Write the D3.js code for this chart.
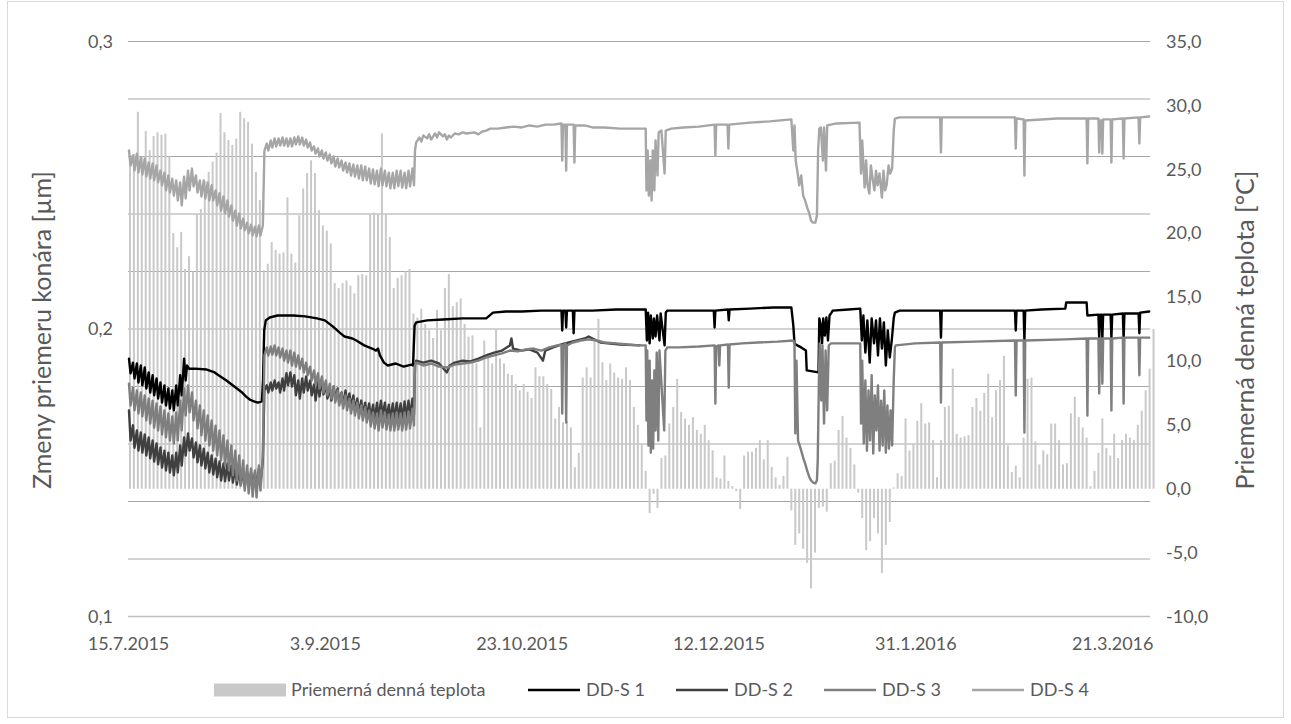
<!DOCTYPE html>
<html>
<head>
<meta charset="utf-8">
<script src="https://cdn.jsdelivr.net/npm/d3@7"></script>
<style>
  body { margin: 0; background: #fff; }
  svg text { font-family: Lato, "Open Sans", "Liberation Sans", sans-serif; fill: #595959; }
</style>
</head>
<body>
<svg id="chart" width="1291" height="724"></svg>
<script>
// ---- data ---------------------------------------------------------------
// Daily mean air temperature [°C], one value per day from 15.7.2015 to 31.3.2016
const tempDaily = [
  26.0, 26.2, 29.5, 26.0, 28.0, 26.5, 27.6, 27.9, 27.7, 27.8,
  26.0, 20.0, 18.9, 20.1, 17.2, 18.2, 17.0, 21.5, 21.9, 24.1,
  24.8, 25.6, 26.3, 29.4, 27.9, 27.3, 26.9, 27.4, 29.5, 29.0,
  28.7, 27.0, 24.8, 22.6, 17.1, 17.6, 19.3, 18.7, 18.4, 18.5,
  22.8, 18.4, 17.7, 21.4, 23.5, 24.7, 25.7, 24.7, 21.8, 20.6,
  20.2, 19.2, 16.1, 15.7, 16.1, 16.3, 15.9, 15.3, 16.7, 16.8,
  16.7, 21.5, 21.6, 21.5, 27.8, 21.5, 19.7, 15.7, 16.5, 16.7,
  17.0, 17.2, 13.7, 13.4, 14.1, 12.9, 12.4, 11.8, 14.0, 12.4,
  15.7, 16.8, 14.3, 14.6, 14.9, 12.9, 11.9, 12.0, 9.8, 4.8,
  11.6, 10.6, 9.8, 12.5, 10.2, 9.8, 9.0, 8.9, 8.2, 7.7,
  8.2, 7.6, 7.1, 9.5, 8.8, 8.8, 8.2, 7.8, 5.5, 6.4,
  5.2, 5.3, 4.8, 1.7, 2.8, 8.7, 9.5, 8.7, 11.8, 13.3,
  9.9, 8.5, 9.8, 9.1, 8.7, 8.6, 9.5, 8.5, 6.4, 5.0,
  3.5, 1.4, -1.9, -0.4, -1.5, 2.4, 2.6, 5.1, 6.4, 8.6,
  6.0, 5.5, 5.0, 5.6, 4.6, 4.3, 5.0, 3.8, 3.0, 0.9,
  0.8, 2.6, 0.6, 0.2, -0.2, -1.6, 2.6, 2.9, 2.9, 3.2,
  3.8, 2.3, 3.8, 1.7, 0.9, 0.3, 1.0, 2.5, -1.7, -4.4,
  -3.5, -4.7, -5.8, -7.8, -5.0, -1.5, -1.4, -1.8, 2.0, 2.2,
  4.6, 5.7, 4.0, 3.2, 1.9, -0.3, -2.3, -4.8, -4.1, -2.3,
  -3.5, -6.6, -4.4, -2.6, 0.1, 1.2, 1.0, 5.5, 3.0, 3.5,
  5.3, 6.7, 5.1, 5.2, 3.8, 0.9, 3.8, 6.4, 6.5, 9.4,
  4.3, 4.0, 4.1, 4.2, 6.4, 7.1, 6.1, 7.5, 9.0, 5.6,
  7.7, 8.5, 10.4, 3.4, 1.3, 1.8, 0.9, 4.0, 8.6, 8.7,
  3.7, 1.9, 3.0, 2.7, 5.1, 5.1, 3.8, 1.9, 2.0, 5.9,
  7.2, 5.6, 4.8, 4.0, 0.2, 1.4, 2.8, 5.5, 3.2, 2.6,
  4.3, 2.4, 3.8, 4.3, 4.0, 3.8, 5.0, 6.1, 7.7, 9.4,
  12.5
];

// Branch diameter change. Days with a strong daily cycle are stored as a
// morning reading (…Am) and an afternoon reading (…Pm), one per day from day 0;
// the rest of each record is stored as [day since 15.7.2015, value] pairs.
const s1Am = [0.1897, 0.1883, 0.1880, 0.1873, 0.1866, 0.1849, 0.1839, 0.1828, 0.1814, 0.1804,
              0.1793, 0.1786, 0.1804, 0.1839, 0.1897];
const s1Pm = [0.1846, 0.1828, 0.1814, 0.1804, 0.1793, 0.1779, 0.1769, 0.1758, 0.1744, 0.1734,
              0.1723, 0.1717, 0.1734, 0.1769, 0.1821];
const s1Rest = [
  [15, 0.1873], [15.5, 0.1862], [17, 0.1862], [20, 0.1859], [22, 0.1849], [23, 0.1839],
  [25, 0.1821], [27, 0.1800], [29, 0.1779], [30, 0.1765], [31, 0.1754], [32, 0.1748],
  [33, 0.1744], [34, 0.1748], [34.3, 0.1821], [34.6, 0.1995], [35, 0.2030], [36, 0.2040],
  [38, 0.2047], [42, 0.2047], [45, 0.2044], [48, 0.2037], [50, 0.2030], [52, 0.2009],
  [54, 0.1985], [55, 0.1974], [57, 0.1967], [58, 0.1960], [60, 0.1943], [62, 0.1932],
  [63, 0.1925], [63.5, 0.1932], [64, 0.1908], [65, 0.1883], [66, 0.1873], [68, 0.1880],
  [70, 0.1869], [72, 0.1876], [72.4, 0.1873], [72.8, 0.2012], [73.2, 0.2023], [76, 0.2030],
  [80, 0.2033], [85, 0.2037], [91, 0.2037], [92.7, 0.2057], [96, 0.2061], [100, 0.2061],
  [105, 0.2064], [110.1, 0.2064], [110.3, 0.1995], [110.5, 0.2064], [111.1, 0.2064],
  [111.3, 0.2005], [111.5, 0.2064], [113, 0.2064], [113.2, 0.1985], [113.4, 0.2064],
  [118, 0.2064], [124, 0.2068], [131.5, 0.2068], [131.8, 0.1960], [132.1, 0.2057],
  [132.5, 0.1950], [132.8, 0.2047], [133.3, 0.1967], [133.6, 0.2037], [134, 0.1974],
  [134.4, 0.2047], [135, 0.1960], [135.3, 0.2054], [136.3, 0.1943], [136.6, 0.2057],
  [137, 0.2064], [142, 0.2064], [148.8, 0.2064], [149, 0.2005], [149.2, 0.2064],
  [152.4, 0.2068], [152.6, 0.2030], [152.8, 0.2068], [158, 0.2071], [164, 0.2075],
  [168.5, 0.2075], [169, 0.2012], [169.3, 0.1950], [170, 0.1943], [171, 0.1936],
  [172.2, 0.1925], [172.4, 0.1856], [175.4, 0.1849], [175.6, 0.2037], [176, 0.2012],
  [176.3, 0.1950], [176.6, 0.2037], [177, 0.1977], [177.4, 0.2040], [177.8, 0.1960],
  [178.2, 0.2047], [178.7, 0.2057], [179, 0.2064], [183, 0.2068], [186, 0.2071],
  [186.4, 0.1960], [186.8, 0.2047], [187.3, 0.1918], [187.8, 0.2030], [188.4, 0.1883],
  [188.9, 0.2037], [189.5, 0.1950], [190, 0.2030], [190.5, 0.1908], [191, 0.2037],
  [191.5, 0.1932], [192, 0.2023], [192.5, 0.1873], [193, 0.1995], [193.5, 0.1901],
  [194, 0.1960], [194.5, 0.2037], [194.8, 0.2057], [196, 0.2064], [206.3, 0.2064],
  [206.5, 0.1970], [206.7, 0.2064], [225.3, 0.2064], [225.5, 0.1995], [225.7, 0.2064],
  [227.5, 0.2064], [227.7, 0.1960], [227.9, 0.2064], [232, 0.2068], [238.1, 0.2071],
  [238.3, 0.2092], [243.5, 0.2092], [243.7, 0.2047], [246.5, 0.2050], [246.7, 0.1967],
  [246.9, 0.2050], [247.3, 0.2050], [247.5, 0.1967], [247.7, 0.2050], [249.6, 0.2050],
  [249.8, 0.1967], [250, 0.2050], [252.7, 0.2054], [252.9, 0.1967], [253.1, 0.2054],
  [256.7, 0.2054], [256.9, 0.1985], [257.1, 0.2057], [259.4, 0.2061]
];

const s2Am = [
  0.1717, 0.1665, 0.1647, 0.1640, 0.1633, 0.1623, 0.1612, 0.1602, 0.1588, 0.1577,
  0.1570, 0.1560, 0.1570, 0.1595, 0.1623, 0.1637, 0.1619, 0.1605, 0.1595, 0.1584,
  0.1570, 0.1560, 0.1549, 0.1539, 0.1532, 0.1532, 0.1525, 0.1518, 0.1511, 0.1508,
  0.1504, 0.1501, 0.1501, 0.1515, 0.1543, 0.1804, 0.1814, 0.1821, 0.1814, 0.1828,
  0.1846, 0.1849, 0.1839, 0.1821, 0.1828, 0.1835, 0.1821, 0.1807, 0.1814, 0.1821,
  0.1804, 0.1793, 0.1800, 0.1793, 0.1779, 0.1786, 0.1776, 0.1769, 0.1758, 0.1751,
  0.1744, 0.1741, 0.1737, 0.1744, 0.1751, 0.1744, 0.1737, 0.1741, 0.1744, 0.1741,
  0.1748, 0.1751, 0.1758
];
const s2Pm = [
  0.1612, 0.1587, 0.1577, 0.1570, 0.1560, 0.1550, 0.1539, 0.1529, 0.1518, 0.1508,
  0.1501, 0.1491, 0.1501, 0.1525, 0.1560, 0.1577, 0.1553, 0.1536, 0.1525, 0.1515,
  0.1501, 0.1494, 0.1484, 0.1473, 0.1470, 0.1473, 0.1466, 0.1459, 0.1456, 0.1452,
  0.1449, 0.1445, 0.1445, 0.1459, 0.1786, 0.1779, 0.1786, 0.1793, 0.1779, 0.1786,
  0.1804, 0.1800, 0.1769, 0.1758, 0.1779, 0.1786, 0.1769, 0.1751, 0.1765, 0.1772,
  0.1758, 0.1751, 0.1758, 0.1744, 0.1734, 0.1741, 0.1727, 0.1717, 0.1710, 0.1703,
  0.1696, 0.1689, 0.1682, 0.1689, 0.1696, 0.1689, 0.1682, 0.1682, 0.1689, 0.1682,
  0.1689, 0.1696, 0.1703
];
const s2Rest = [
  [72.9, 0.1873], [73.2, 0.1890], [75, 0.1883], [77, 0.1890], [79, 0.1880], [81, 0.1849],
  [81.7, 0.1873], [83, 0.1883], [85, 0.1890], [87, 0.1887], [89, 0.1897], [91, 0.1908],
  [93, 0.1918], [95, 0.1925], [97, 0.1943], [97.4, 0.1967], [97.8, 0.1932], [100, 0.1925],
  [102, 0.1929], [104, 0.1918], [105.4, 0.1890], [106, 0.1925], [108, 0.1936],
  [110, 0.1946], [112, 0.1953], [114, 0.1960], [116, 0.1967], [117, 0.1974],
  [118, 0.1967], [120, 0.1953], [125, 0.1946], [130, 0.1943]
];

const s3Am = [
  0.1810, 0.1796, 0.1786, 0.1779, 0.1769, 0.1758, 0.1751, 0.1741, 0.1731, 0.1717,
  0.1706, 0.1696, 0.1710, 0.1751, 0.1793, 0.1804, 0.1779, 0.1751, 0.1734, 0.1717,
  0.1699, 0.1682, 0.1664, 0.1647, 0.1630, 0.1612, 0.1595, 0.1577, 0.1560, 0.1543,
  0.1525, 0.1515, 0.1508, 0.1525, 0.1560, 0.1936, 0.1939, 0.1943, 0.1936, 0.1932,
  0.1925, 0.1925, 0.1918, 0.1908, 0.1897, 0.1883, 0.1869, 0.1856, 0.1846, 0.1835,
  0.1821, 0.1810, 0.1800, 0.1786, 0.1776, 0.1769, 0.1758, 0.1751, 0.1744, 0.1734,
  0.1727, 0.1717, 0.1710, 0.1706, 0.1717, 0.1710, 0.1703, 0.1706, 0.1710, 0.1706,
  0.1710, 0.1713, 0.1723
];
const s3Pm = [
  0.1734, 0.1717, 0.1706, 0.1696, 0.1682, 0.1671, 0.1657, 0.1647, 0.1633, 0.1623,
  0.1612, 0.1602, 0.1612, 0.1647, 0.1699, 0.1710, 0.1682, 0.1654, 0.1630, 0.1612,
  0.1595, 0.1577, 0.1560, 0.1543, 0.1525, 0.1508, 0.1491, 0.1473, 0.1456, 0.1438,
  0.1428, 0.1417, 0.1414, 0.1438, 0.1908, 0.1908, 0.1911, 0.1908, 0.1901, 0.1890,
  0.1883, 0.1873, 0.1869, 0.1862, 0.1849, 0.1839, 0.1821, 0.1807, 0.1793, 0.1779,
  0.1769, 0.1758, 0.1744, 0.1734, 0.1723, 0.1717, 0.1706, 0.1699, 0.1689, 0.1682,
  0.1675, 0.1661, 0.1654, 0.1647, 0.1657, 0.1650, 0.1647, 0.1647, 0.1650, 0.1647,
  0.1650, 0.1654, 0.1664
];
const s3Rest = [
  [72.9, 0.1873], [73.2, 0.1883], [75, 0.1873], [77, 0.1880], [79, 0.1869], [81, 0.1866],
  [83, 0.1876], [85, 0.1880], [87, 0.1883], [89, 0.1890], [91, 0.1901], [93, 0.1908],
  [95, 0.1915], [97, 0.1925], [99, 0.1922], [101, 0.1929], [103, 0.1932], [105, 0.1925],
  [107, 0.1936], [109, 0.1943], [110.1, 0.1946], [110.3, 0.1706], [110.5, 0.1939],
  [111.1, 0.1950], [111.3, 0.1675], [111.5, 0.1943], [113, 0.1953], [115, 0.1960],
  [117, 0.1964], [119, 0.1960], [121, 0.1953], [124, 0.1950], [127, 0.1946], [130, 0.1943],
  [131.5, 0.1943], [131.7, 0.1682], [131.9, 0.1925], [132.2, 0.1595], [132.5, 0.1890],
  [132.8, 0.1570], [133.1, 0.1821], [133.4, 0.1584], [133.7, 0.1856], [134, 0.1647],
  [134.3, 0.1918], [134.7, 0.1612], [135, 0.1925], [136.2, 0.1647], [136.5, 0.1925],
  [137, 0.1936], [140, 0.1936], [145, 0.1939], [149, 0.1943], [149.2, 0.1741],
  [149.4, 0.1939], [150, 0.1943], [150.2, 0.1873], [150.4, 0.1943], [152.4, 0.1946],
  [152.6, 0.1796], [152.8, 0.1946], [156, 0.1950], [160, 0.1953], [165, 0.1956],
  [169, 0.1960], [169.3, 0.1950], [169.5, 0.1637], [169.8, 0.1890], [170.2, 0.1612],
  [170.6, 0.1595], [171, 0.1577], [171.5, 0.1553], [172, 0.1532], [172.5, 0.1508],
  [173, 0.1487], [173.5, 0.1473], [174, 0.1466], [174.6, 0.1463], [175, 0.1473],
  [175.2, 0.1543], [175.5, 0.1821], [175.7, 0.1950], [176.1, 0.1751], [176.4, 0.1943],
  [176.8, 0.1671], [177.2, 0.1925], [177.6, 0.1717], [178, 0.1943], [178.6, 0.1950],
  [183, 0.1950], [186, 0.1950], [186.2, 0.1671], [186.5, 0.1890], [186.9, 0.1602],
  [187.3, 0.1821], [187.7, 0.1577], [188.1, 0.1786], [188.5, 0.1612], [188.9, 0.1839],
  [189.3, 0.1567], [189.7, 0.1769], [190.1, 0.1647], [190.5, 0.1804], [190.9, 0.1577],
  [191.3, 0.1751], [191.7, 0.1595], [192.1, 0.1786], [192.5, 0.1570], [192.9, 0.1734],
  [193.3, 0.1584], [193.7, 0.1717], [194.1, 0.1595], [194.5, 0.1821], [194.8, 0.1936],
  [195, 0.1943], [200, 0.1950], [206.3, 0.1953], [206.5, 0.1744], [206.7, 0.1953],
  [215, 0.1956], [225.3, 0.1960], [225.5, 0.1769], [225.7, 0.1960], [227.5, 0.1960],
  [227.7, 0.1640], [227.9, 0.1960], [238, 0.1964], [243.5, 0.1967], [243.7, 0.1699],
  [243.9, 0.1967], [246.5, 0.1967], [246.7, 0.1776], [246.9, 0.1967], [247.3, 0.1967],
  [247.5, 0.1810], [247.7, 0.1967], [249.6, 0.1967], [249.8, 0.1717], [250, 0.1967],
  [252.7, 0.1970], [252.9, 0.1741], [253.1, 0.1970], [256.7, 0.1970], [256.9, 0.1839],
  [257.1, 0.1970], [259.4, 0.1970]
];

const s4Am = [
  0.2621, 0.2604, 0.2610, 0.2596, 0.2593, 0.2579, 0.2576, 0.2569, 0.2551, 0.2544,
  0.2534, 0.2523, 0.2517, 0.2510, 0.2530, 0.2551, 0.2558, 0.2534, 0.2517, 0.2517,
  0.2510, 0.2500, 0.2482, 0.2472, 0.2461, 0.2447, 0.2430, 0.2412, 0.2402, 0.2384,
  0.2370, 0.2363, 0.2356, 0.2360, 0.2360, 0.2645, 0.2656, 0.2663, 0.2663, 0.2666,
  0.2663, 0.2663, 0.2666, 0.2670, 0.2666, 0.2659, 0.2649, 0.2635, 0.2628, 0.2621,
  0.2614, 0.2607, 0.2600, 0.2593, 0.2586, 0.2579, 0.2576, 0.2572, 0.2569, 0.2569,
  0.2565, 0.2558, 0.2555, 0.2551, 0.2558, 0.2551, 0.2544, 0.2544, 0.2551, 0.2551,
  0.2544, 0.2551, 0.2558
];
const s4Pm = [
  0.2569, 0.2551, 0.2544, 0.2537, 0.2530, 0.2523, 0.2517, 0.2510, 0.2500, 0.2482,
  0.2475, 0.2464, 0.2447, 0.2430, 0.2454, 0.2482, 0.2496, 0.2475, 0.2461, 0.2454,
  0.2447, 0.2447, 0.2430, 0.2412, 0.2402, 0.2391, 0.2377, 0.2360, 0.2350, 0.2343,
  0.2332, 0.2325, 0.2322, 0.2325, 0.2620, 0.2621, 0.2631, 0.2635, 0.2638, 0.2638,
  0.2635, 0.2635, 0.2642, 0.2642, 0.2638, 0.2631, 0.2621, 0.2610, 0.2600, 0.2593,
  0.2586, 0.2576, 0.2565, 0.2562, 0.2551, 0.2544, 0.2534, 0.2530, 0.2523, 0.2517,
  0.2517, 0.2506, 0.2503, 0.2496, 0.2500, 0.2496, 0.2489, 0.2489, 0.2496, 0.2492,
  0.2489, 0.2496, 0.2500
];
const s4Rest = [
  [72.9, 0.2621], [73.2, 0.2649], [74, 0.2666], [74.5, 0.2652], [75, 0.2673], [76, 0.2663],
  [76.5, 0.2677], [77, 0.2659], [78, 0.2680], [78.5, 0.2666], [79, 0.2684], [80, 0.2670],
  [80.5, 0.2677], [81, 0.2659], [81.5, 0.2673], [82, 0.2666], [83, 0.2680], [84, 0.2677],
  [85, 0.2684], [86, 0.2680], [88, 0.2684], [89, 0.2677], [90, 0.2687], [91, 0.2690],
  [92, 0.2697], [94, 0.2697], [96, 0.2701], [98, 0.2704], [100, 0.2701], [102, 0.2708],
  [104, 0.2704], [106, 0.2711], [108, 0.2711], [110.1, 0.2715], [110.3, 0.2586],
  [110.5, 0.2711], [111.1, 0.2711], [111.3, 0.2551], [111.5, 0.2711], [113.2, 0.2711],
  [113.4, 0.2579], [113.6, 0.2708], [116, 0.2708], [118, 0.2701], [121, 0.2701],
  [125, 0.2697], [128, 0.2697], [131.5, 0.2697], [131.7, 0.2482], [132, 0.2621],
  [132.3, 0.2464], [132.7, 0.2586], [133, 0.2447], [133.3, 0.2621], [133.7, 0.2482],
  [134, 0.2656], [134.5, 0.2534], [134.8, 0.2684], [135.5, 0.2690], [136.3, 0.2541],
  [136.6, 0.2690], [138, 0.2697], [141, 0.2701], [145, 0.2704], [149, 0.2711],
  [149.2, 0.2604], [149.4, 0.2711], [152.3, 0.2711], [152.5, 0.2628], [152.7, 0.2711],
  [158, 0.2718], [163, 0.2722], [168.5, 0.2729], [169, 0.2621], [169.3, 0.2708],
  [169.6, 0.2586], [170, 0.2551], [170.5, 0.2500], [171, 0.2534], [171.5, 0.2464],
  [172, 0.2447], [172.5, 0.2423], [173, 0.2405], [173.5, 0.2377], [174, 0.2370],
  [174.6, 0.2370], [175, 0.2395], [175.3, 0.2621], [175.6, 0.2697], [176, 0.2701],
  [176.5, 0.2586], [176.8, 0.2701], [177.3, 0.2551], [177.6, 0.2708], [180, 0.2715],
  [185.8, 0.2718], [186.2, 0.2541], [186.5, 0.2656], [187.1, 0.2492], [187.5, 0.2586],
  [187.8, 0.2506], [188.3, 0.2471], [188.7, 0.2569], [189.2, 0.2517], [189.6, 0.2482],
  [190, 0.2551], [190.4, 0.2500], [190.9, 0.2541], [191.5, 0.2457], [191.9, 0.2551],
  [192.3, 0.2482], [192.7, 0.2500], [193.2, 0.2569], [193.6, 0.2541], [194.1, 0.2558],
  [194.5, 0.2690], [194.8, 0.2732], [196, 0.2736], [206.3, 0.2736], [206.5, 0.2614],
  [206.7, 0.2736], [215, 0.2736], [225.3, 0.2736], [225.5, 0.2628], [225.7, 0.2732],
  [227.5, 0.2729], [227.7, 0.2534], [227.9, 0.2725], [236, 0.2732], [243.5, 0.2732],
  [243.7, 0.2576], [243.9, 0.2732], [246.5, 0.2732], [246.7, 0.2614], [246.9, 0.2725],
  [247.3, 0.2725], [247.5, 0.2610], [247.7, 0.2729], [249.6, 0.2729], [249.8, 0.2579],
  [250, 0.2729], [252.7, 0.2732], [252.9, 0.2593], [253.1, 0.2732], [256.7, 0.2736],
  [256.9, 0.2645], [257.1, 0.2736], [259.4, 0.2739]
];

const seriesNames = ["DD-S 1", "DD-S 2", "DD-S 3", "DD-S 4"];
const seriesColors = ["#000000", "#404040", "#7f7f7f", "#a6a6a6"];
const barName = "Priemerná denná teplota";
const barColor = "#c9c9c9";

const dateTickLabels = ["15.7.2015", "3.9.2015", "23.10.2015", "12.12.2015", "31.1.2016", "21.3.2016"];
const leftTickValues = [0.1, 0.2, 0.3];
const gridValues = [0.10, 0.12, 0.14, 0.16, 0.18, 0.20, 0.22, 0.24, 0.26, 0.28, 0.30];
const rightTickValues = [-10, -5, 0, 5, 10, 15, 20, 25, 30, 35];

const leftTitle = "Zmeny priemeru konára [µm]";
const rightTitle = "Priemerná denná teplota [°C]";

// ---- layout -------------------------------------------------------------
const plot = { left: 128, right: 1150, top: 41.5, bottom: 616.5 };
const DAY = 864e5;
const t0 = Date.UTC(2015, 6, 15);
const dayToDate = d => new Date(t0 + d * DAY);

const svg = d3.select("#chart");

const x = d3.scaleUtc()
  .domain([dayToDate(0), dayToDate(259.6)])
  .range([plot.left, plot.right]);
const yL = d3.scaleLinear().domain([0.1, 0.3]).range([plot.bottom, plot.top]);
const yR = d3.scaleLinear().domain([-10, 35]).range([plot.bottom, plot.top]);

const locale = d3.formatLocale({ decimal: ",", thousands: " ", grouping: [3], currency: ["", " €"], minus: "-" });
const fmt1 = locale.format(".1f");
const parseDate = d3.utcParse("%d.%m.%Y");
const fmtDate = d3.utcFormat("%-d.%-m.%Y");

// chart border
svg.append("rect")
  .attr("x", 7.5).attr("y", 1.5).attr("width", 1276).attr("height", 716)
  .attr("fill", "none").attr("stroke", "#d9d9d9").attr("stroke-width", 1);

// horizontal gridlines
svg.append("g").selectAll("line").data(gridValues).join("line")
  .attr("x1", plot.left).attr("x2", plot.right)
  .attr("y1", d => yL(d)).attr("y2", d => yL(d))
  .attr("stroke", "#a6a6a6").attr("stroke-width", 1);

// daily temperature columns (secondary axis)
const barW = 2;
svg.append("g").selectAll("rect").data(tempDaily).join("rect")
  .attr("x", (d, i) => x(dayToDate(i + 0.5)) - barW / 2)
  .attr("width", barW)
  .attr("y", d => Math.min(yR(d), yR(0)))
  .attr("height", d => Math.abs(yR(d) - yR(0)))
  .attr("fill", barColor);

// category axis line
svg.append("line")
  .attr("x1", plot.left).attr("x2", plot.right)
  .attr("y1", plot.bottom).attr("y2", plot.bottom)
  .attr("stroke", "#bfbfbf").attr("stroke-width", 1.5);

// diameter series
function buildSeries(am, pm, rest) {
  const pts = [];
  am.forEach((v, i) => { pts.push([i + 0.25, v]); pts.push([i + 0.65, pm[i]]); });
  return pts.concat(rest);
}
const seriesData = [
  buildSeries(s1Am, s1Pm, s1Rest),
  buildSeries(s2Am, s2Pm, s2Rest),
  buildSeries(s3Am, s3Pm, s3Rest),
  buildSeries(s4Am, s4Pm, s4Rest)
];
const line = d3.line()
  .x(d => x(dayToDate(d[0])))
  .y(d => yL(d[1]));
svg.append("g").selectAll("path").data(seriesData).join("path")
  .attr("d", line)
  .attr("fill", "none")
  .attr("stroke", (d, i) => seriesColors[i])
  .attr("stroke-width", 2.4)
  .attr("stroke-linejoin", "round")
  .attr("stroke-linecap", "round");

// axes
const axisFont = 18;
const gL = svg.append("g").attr("transform", `translate(${plot.left},0)`)
  .call(d3.axisLeft(yL).tickValues(leftTickValues).tickFormat(fmt1).tickSize(0).tickPadding(15));
const gR = svg.append("g").attr("transform", `translate(${plot.right},0)`)
  .call(d3.axisRight(yR).tickValues(rightTickValues).tickFormat(fmt1).tickSize(0).tickPadding(16));
const gB = svg.append("g").attr("transform", `translate(0,${plot.bottom})`)
  .call(d3.axisBottom(x).tickValues(dateTickLabels.map(parseDate)).tickFormat(fmtDate).tickSize(0).tickPadding(21));
[gL, gR, gB].forEach(g => {
  g.select(".domain").remove();
  g.selectAll("text").attr("font-size", axisFont).attr("font-family", null).attr("fill", "#595959");
});

// axis titles
svg.append("text")
  .attr("transform", "translate(51,330) rotate(-90)")
  .attr("text-anchor", "middle")
  .attr("font-size", 25)
  .text(leftTitle);
svg.append("text")
  .attr("transform", "translate(1254,330) rotate(-90)")
  .attr("text-anchor", "middle")
  .attr("font-size", 25)
  .text(rightTitle);

// legend
const legendY = 690;
const legend = svg.append("g");
legend.append("rect")
  .attr("x", 214).attr("y", legendY - 6.5).attr("width", 72).attr("height", 13)
  .attr("fill", barColor);
legend.append("text")
  .attr("x", 291).attr("y", legendY).attr("dy", "0.35em")
  .attr("font-size", 18).text(barName);
const keyX = [528, 676, 824, 972];
seriesNames.forEach((name, i) => {
  legend.append("line")
    .attr("x1", keyX[i]).attr("x2", keyX[i] + 52)
    .attr("y1", legendY).attr("y2", legendY)
    .attr("stroke", seriesColors[i]).attr("stroke-width", 2.4);
  legend.append("text")
    .attr("x", keyX[i] + 58).attr("y", legendY).attr("dy", "0.35em")
    .attr("font-size", 18).text(name);
});
</script>
</body>
</html>
